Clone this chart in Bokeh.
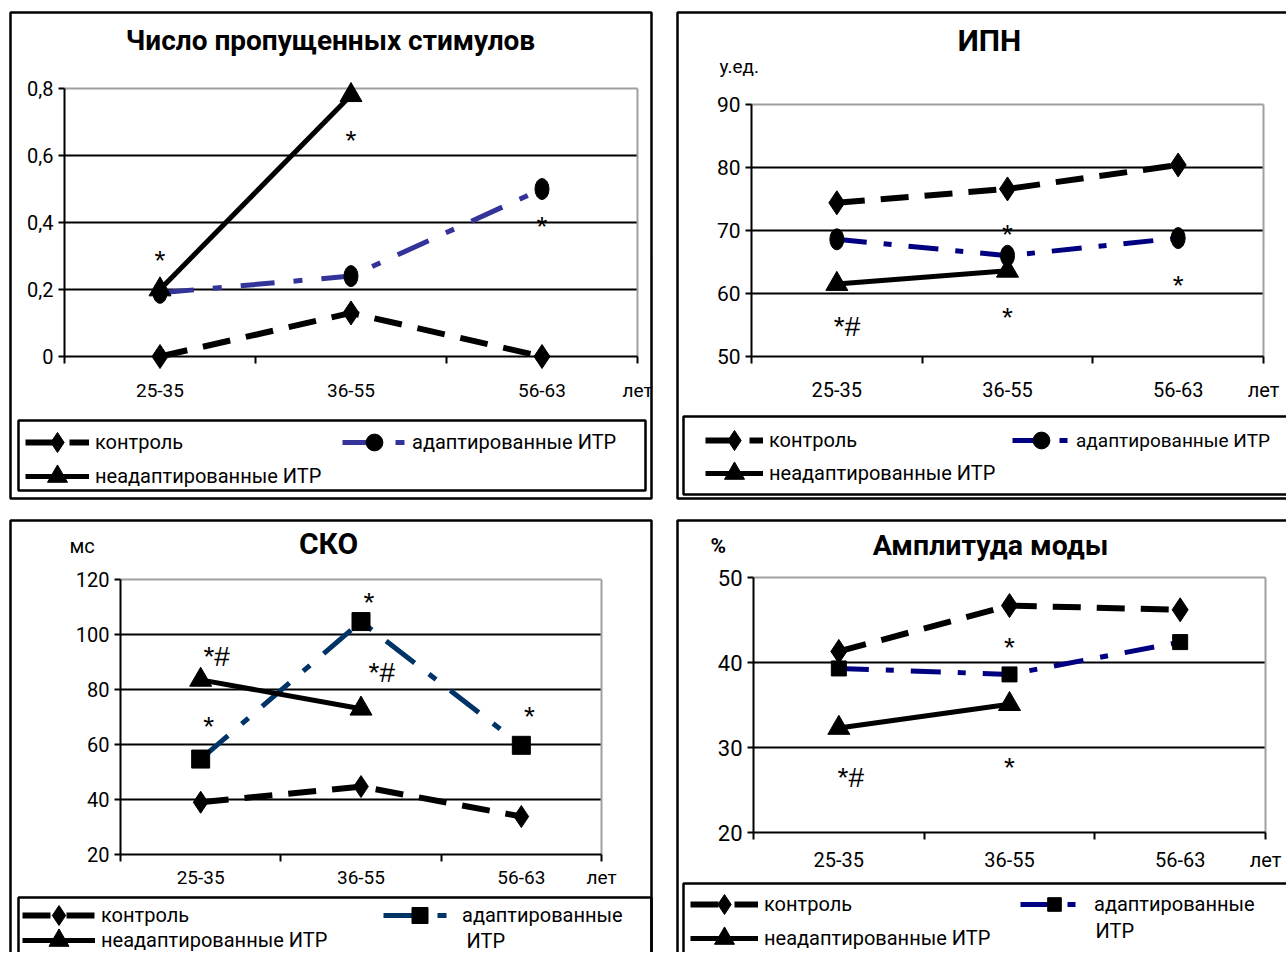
from bokeh.plotting import figure
from bokeh.models import (Range1d, FixedTicker, Label, Legend, LegendItem, BoxAnnotation, Grid)
from bokeh.layouts import column, row
from bokeh.embed import file_html
from bokeh.resources import INLINE

# ---------------- data ----------------
categories = ["25-35", "36-55", "56-63"]
x_unit_label = "лет"
series_names = ["контроль", "адаптированные ИТР", "неадаптированные ИТР"]
wrapped_name = ["адаптированные", "ИТР"]

missed_title = "Число пропущенных стимулов"
missed_yticks = [0, 0.2, 0.4, 0.6, 0.8]
missed_ytick_labels = ["0", "0,2", "0,4", "0,6", "0,8"]
missed_control = [0.0, 0.13, 0.0]
missed_adapted = [0.19, 0.24, 0.50]
missed_unadapted = [0.20, 0.78]
missed_marks = [("*", 0.5, 0.30), ("*", 1.5, 0.657), ("*", 2.5, 0.40)]

ipn_title = "ИПН"
ipn_unit = "у.ед."
ipn_yticks = [50, 60, 70, 80, 90]
ipn_control = [74.4, 76.6, 80.4]
ipn_adapted = [68.6, 66.0, 68.8]
ipn_unadapted = [61.5, 63.6]
ipn_marks = [("*#", 0.56, 55.4), ("*", 1.5, 70.0), ("*", 1.5, 56.8), ("*", 2.5, 61.9)]

sko_title = "СКО"
sko_unit = "мс"
sko_yticks = [20, 40, 60, 80, 100, 120]
sko_control = [39.0, 44.7, 33.8]
sko_adapted = [54.7, 104.7, 59.7]
sko_unadapted = [83.5, 73.0]
sko_marks = [("*#", 0.6, 93.5), ("*", 0.55, 68.0), ("*", 1.55, 113.0),
             ("*#", 1.63, 87.6), ("*", 2.55, 71.6)]

amp_title = "Амплитуда моды"
amp_unit = "%"
amp_yticks = [20, 30, 40, 50]
amp_control = [41.3, 46.7, 46.2]
amp_adapted = [39.3, 38.6, 42.4]
amp_unadapted = [32.3, 35.1]
amp_marks = [("*#", 0.57, 26.9), ("*", 1.5, 42.2), ("*", 1.5, 28.1)]

# ---------------- style ----------------
FONT = "Roboto, 'Liberation Sans', sans-serif"
ARIAL = "'Liberation Sans', Arial, sans-serif"
XC = [0.5, 1.5, 2.5]


def build(cfg, control, adapted, unadapted, marks, ylabels=None):
    cx0, cy0, w, h = cfg["cell"]
    cx1, cy1 = cx0 + w, cy0 + h
    X0, X3, Yb, Yt = cfg["map"]
    ymin, ymax = cfg["yr"]
    kx = (X3 - X0) / 3.0
    ky = (Yb - Yt) / (ymax - ymin)

    def dx(px):
        return (px - X0) / kx

    def dy(py):
        return ymin + (Yb - py) / ky

    p = figure(width=w, height=h, title=None,
               x_range=Range1d(dx(cx0), dx(cx1)), y_range=Range1d(dy(cy1), dy(cy0)),
               output_backend="svg", toolbar_location=None,
               min_border_left=0, min_border_right=0, min_border_top=0, min_border_bottom=0)
    p.background_fill_color = "white"
    p.border_fill_color = "white"
    p.outline_line_color = None

    # axes
    xa = p.xaxis[0]
    xa.fixed_location = ymin
    xa.bounds = (0, 3)
    xa.ticker = FixedTicker(ticks=[0.5, 1.5, 2.5, 3.0], minor_ticks=[0, 1, 2, 3])
    xa.major_label_overrides = {0.5: categories[0], 1.5: categories[1],
                                2.5: categories[2], 3.0: x_unit_label}
    xa.major_tick_out = 0
    xa.major_tick_in = 0
    xa.minor_tick_out = 7
    xa.minor_tick_in = 0
    xa.minor_tick_line_color = "black"
    xa.minor_tick_line_width = 2
    xa.axis_line_color = "black"
    xa.axis_line_width = 2
    xa.major_label_standoff = cfg["xstand"]
    xa.major_label_text_font = FONT
    xa.major_label_text_font_size = cfg["xfs"]
    xa.major_label_text_color = "black"

    ya = p.yaxis[0]
    ya.fixed_location = 0
    ya.bounds = (ymin, ymax)
    ya.ticker = FixedTicker(ticks=cfg["yticks"], minor_ticks=[])
    if ylabels:
        ya.major_label_overrides = {t: s for t, s in zip(cfg["yticks"], ylabels)}
    ya.major_tick_out = 6
    ya.major_tick_in = 0
    ya.major_tick_line_width = 2
    ya.minor_tick_out = 0
    ya.minor_tick_in = 0
    ya.axis_line_color = "black"
    ya.axis_line_width = 2
    ya.major_label_standoff = 5
    ya.major_label_text_font = FONT
    ya.major_label_text_font_size = cfg["yfs"]
    ya.major_label_text_color = "black"

    p.xgrid.visible = False
    p.ygrid.ticker = FixedTicker(ticks=cfg["yticks"][1:-1])
    p.ygrid.cross_bounds = (0, 3)
    p.ygrid.grid_line_color = "black"
    p.ygrid.grid_line_width = 2
    # plot-area border (grey top and right edges)
    p.add_layout(Grid(dimension=1, ticker=FixedTicker(ticks=[ymax]), cross_bounds=(0, 3),
                      grid_line_color="#a0a0a0", grid_line_width=2))
    p.add_layout(Grid(dimension=0, ticker=FixedTicker(ticks=[3]), cross_bounds=(ymin, ymax),
                      grid_line_color="#a0a0a0", grid_line_width=2))

    # series
    c_line = p.line(XC, control, line_color="black", line_width=6, line_dash="28 16")
    a_line = p.line(XC, adapted, line_color=cfg["blue"], line_width=5,
                    line_dash=cfg["dashdot"])
    u_line = p.line(XC[:len(unadapted)], unadapted, line_color="black", line_width=5)

    c_mk = p.scatter(XC, control, marker="diamond", size=cfg["dsize"],
                     fill_color="black", line_color="black")
    if cfg["amark"] == "circle":
        p.ellipse(XC, adapted, width=14, height=21, width_units="screen",
                  height_units="screen", fill_color="black", line_color="black")
        a_mk = p.scatter(XC, adapted, marker="circle", size=17, fill_color="black",
                         line_color="black", visible=False)
    else:
        a_mk = p.scatter(XC, adapted, marker="square", size=cfg["ssize"],
                         fill_color="black", line_color="black")
    u_mk = p.scatter(XC[:len(unadapted)], unadapted, marker="triangle", size=22,
                     fill_color="black", line_color="black")

    # significance marks
    for txt, xv, yv in marks:
        p.add_layout(Label(x=xv, y=yv, text=txt, text_align="center",
                           text_baseline="middle", text_font=ARIAL, y_offset=-4,
                           text_font_size=cfg["mfs"], text_color="black"))

    # title & unit
    tx, ty = cfg["title_pos"]
    p.add_layout(Label(x=dx(tx), y=dy(ty), text=cfg["title"], text_align="center",
                       text_baseline="middle", text_font=FONT, text_font_style="bold",
                       text_font_size=cfg["tfs"], text_color="black"))
    if cfg.get("unit"):
        ux, uy = cfg["unit_pos"]
        p.add_layout(Label(x=dx(ux), y=dy(uy), text=cfg["unit"], text_align="left",
                           text_baseline="middle", text_font=FONT,
                           text_font_style=cfg.get("unit_style", "normal"),
                           text_font_size=cfg["ufs"], text_color="black"))

    # panel border and legend box
    for (bl, bt, br, bb) in (cfg["border"], cfg["lbox"]):
        p.add_layout(BoxAnnotation(left=dx(bl), right=dx(br), top=dy(bt), bottom=dy(bb),
                                   fill_alpha=0, line_color="black", line_alpha=1,
                                   line_width=2.5))

    # legends: one per entry, each placed at its row
    def add_leg(label, rends, xl, yc, gh, fs):
        lg = Legend(items=[LegendItem(label=label, renderers=rends)],
                    location=(xl - cx0, cy1 - (yc + gh / 2)), orientation="vertical")
        lg.border_line_color = None
        lg.background_fill_alpha = 0
        lg.padding = 0
        lg.margin = 0
        lg.spacing = 0
        lg.glyph_width = cfg["gw"]
        lg.glyph_height = gh
        lg.label_height = gh
        lg.label_standoff = 6
        lg.label_text_font = FONT
        lg.label_text_font_size = fs
        lg.label_text_color = "black"
        lg.click_policy = "none"
        p.add_layout(lg)

    gx1, gy1, gy2, gx2, gyb = cfg["leg_pos"]
    add_leg(series_names[0], [c_line, c_mk], gx1, gy1, 50, cfg["lfs"])
    add_leg(series_names[2], [u_line, u_mk], gx1, gy2, 50, cfg["lfs"])
    lab2 = wrapped_name[0] if cfg.get("wrap") else series_names[1]
    add_leg(lab2, [a_line, a_mk], gx2, gyb, cfg["ghB"], cfg.get("lfsB", cfg["lfs"]))
    if cfg.get("wrap"):
        wx, wy = cfg["wrap_pos"]
        p.add_layout(Label(x=dx(wx), y=dy(wy), text=wrapped_name[1], text_align="left",
                           text_baseline="middle", text_font=FONT,
                           text_font_size=cfg["lfs"], text_color="black"))
    return p


cfg1 = dict(cell=(0, 0, 664, 510), map=(64, 637, 356, 88), yr=(0, 0.8),
            yticks=missed_yticks, xstand=15, xfs="19px", yfs="20px",
            blue="#333399", dashdot="34 19 9 19", dsize=24, amark="circle", ssize=17,
            mfs="28px", title=missed_title, title_pos=(330, 40), tfs="28px",
            border=(10, 12, 651, 498), lbox=(18, 420, 645, 490),
            gw=64, lfs="20px", ghB=42,
            leg_pos=(25, 442, 476, 342, 442))
cfg2 = dict(cell=(664, 0, 622, 510), map=(751, 1263, 356, 104), yr=(50, 90),
            yticks=ipn_yticks, xstand=14, xfs="20px", yfs="21px",
            blue="#000080", dashdot="30 17 8 17", dsize=24, amark="circle", ssize=17,
            mfs="28px", title=ipn_title, title_pos=(989, 40), tfs="30px",
            unit=ipn_unit, unit_pos=(719, 66), ufs="19px",
            border=(677, 12, 1295, 498), lbox=(683, 416, 1295, 494),
            gw=58, lfs="20px", lfsB="19px", ghB=42,
            leg_pos=(705, 440, 473, 1012, 440))
cfg3 = dict(cell=(0, 510, 664, 442), map=(120, 601, 854, 579), yr=(20, 120),
            yticks=sko_yticks, xstand=4, xfs="19px", yfs="20px",
            blue="#003366", dashdot="36 18 9 18", dsize=22, amark="square", ssize=18,
            mfs="28px", title=sko_title, title_pos=(328, 543), tfs="30px",
            unit=sko_unit, unit_pos=(69, 545), ufs="20px",
            border=(10, 520, 651, 970), lbox=(18, 897, 651, 970),
            gw=73, lfs="20px", wrap=True, wrap_pos=(466, 940), ghB=40,
            leg_pos=(22, 915, 940, 383, 915))
cfg4 = dict(cell=(664, 510, 622, 442), map=(753, 1265, 832, 577), yr=(20, 50),
            yticks=amp_yticks, xstand=8, xfs="20px", yfs="22px",
            blue="#000080", dashdot="30 17 8 17", dsize=24, amark="square", ssize=15,
            mfs="28px", title=amp_title, title_pos=(990, 545), tfs="28.5px",
            unit=amp_unit, unit_pos=(710, 545), ufs="21px", unit_style="bold",
            border=(677, 520, 1295, 970), lbox=(683, 883, 1295, 970),
            gw=68, lfs="20px", wrap=True, wrap_pos=(1095, 930), ghB=34,
            leg_pos=(690, 904, 938, 1020, 904))

p1 = build(cfg1, missed_control, missed_adapted, missed_unadapted, missed_marks,
           missed_ytick_labels)
p2 = build(cfg2, ipn_control, ipn_adapted, ipn_unadapted, ipn_marks)
p3 = build(cfg3, sko_control, sko_adapted, sko_unadapted, sko_marks)
p4 = build(cfg4, amp_control, amp_adapted, amp_unadapted, amp_marks)

layout = column(row(p1, p2), row(p3, p4))
open("out.html", "w").write(file_html(layout, INLINE))
